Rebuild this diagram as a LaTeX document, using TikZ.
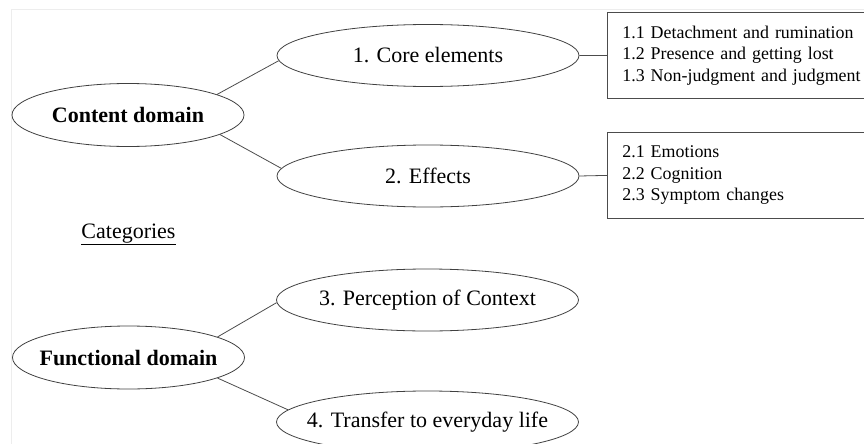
\documentclass[tikz,border=0pt]{standalone}
\usepackage{fontspec}
\setmainfont{Liberation Serif}
\usetikzlibrary{shapes.geometric}
\begin{document}
\begin{tikzpicture}[x=1pt,y=-1pt,
  ell/.style={draw=black!75, line width=0.8pt, ellipse, minimum width=302pt, minimum height=62pt, inner sep=0pt},
  dom/.style={draw=black!75, line width=0.8pt, ellipse, minimum width=232pt, minimum height=63pt, inner sep=0pt},
  every label/.style={font=\fontsize{22}{26}\selectfont, inner sep=0pt},
  conn/.style={draw=black!70, line width=0.8pt},
  catbox/.style={draw=black!70, line width=0.8pt, anchor=north west, minimum height=86pt, text width=250pt, inner xsep=15pt, inner ysep=0pt, align=left, font=\fontsize{17.9}{21.6}\selectfont},
  frame/.style={draw=black!7, line width=0.6pt}
]
\useasboundingbox (0,0) rectangle (864,444);
\clip (0,0) rectangle (864,444);
\draw[frame] (11,444) -- (11,9) -- (864,9);

\node[dom, label={center:\textbf{Content domain}}] (cd) at (128,115) {};
\node[ell, label={center:1. Core elements}] (core) at (428,55.5) {};
\node[ell, label={center:2. Effects}] (eff) at (428,176) {};
\node[catbox] (b1) at (607,12) {1.1 Detachment and rumination\\1.2 Presence and getting lost\\1.3 Non-judgment and judgment};
\node[catbox] (b2) at (607,132) {2.1 Emotions\\2.2 Cognition\\2.3 Symptom changes};

\node[anchor=base, font=\fontsize{22}{26}\selectfont, inner sep=0pt] (cat) at (128.5,238) {\underline{Categories}};

\node[dom, label={center:\textbf{Functional domain}}] (fd) at (128.5,357.5) {};
\node[ell, label={center:3. Perception of Context}] (per) at (427.5,300) {};
\node[ell, label={center:4. Transfer to everyday life}] (tra) at (427.5,422) {};

\draw[conn] (cd.13) -- (core.182);
\draw[conn] (cd.-12) -- (eff.177);
\draw[conn] (core.east) -- (b1.west);
\draw[conn] (eff.east) -- (b2.west);
\draw[conn] (fd.13) -- (per.181);
\draw[conn] (fd.-13) -- (tra.175);
\end{tikzpicture}
\end{document}
